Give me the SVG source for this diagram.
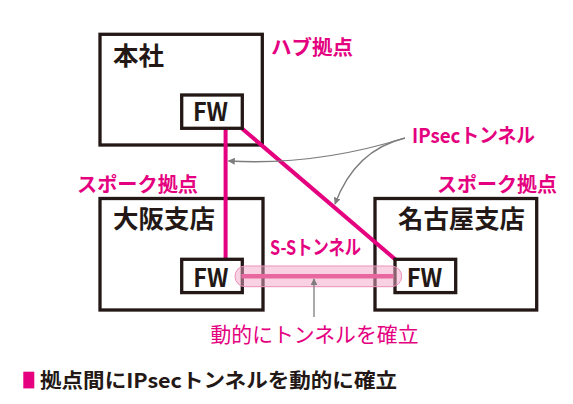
<svg xmlns="http://www.w3.org/2000/svg" width="573" height="404" viewBox="0 0 573 404">
<defs>
<style>
.box{fill:#fff;stroke:#231815;stroke-width:3.3}
.fw{fill:#fff;stroke:#231815;stroke-width:3.3}
.jp{font-family:"Noto Sans CJK JP","Noto Sans",sans-serif}
.lbl{font-weight:700;font-size:25px;fill:#231815}
.fwt{font-weight:700;font-size:25px;fill:#231815}
.mg{font-weight:700;font-size:20px;fill:#e4007f}
.link{stroke:#e4007f;stroke-width:4;fill:none}
.gray{stroke:#7d7d7d;stroke-width:1.3;fill:none}
</style>
<marker id="ah" viewBox="0 0 10 10" refX="9" refY="5" markerWidth="7" markerHeight="7" markerUnits="userSpaceOnUse" orient="auto">
<path d="M0,0 L10,5 L0,10 Z" fill="#7d7d7d"/>
</marker>
</defs>
<rect width="573" height="404" fill="#fff"/>

<g id="hub">
<rect class="box" x="100" y="34.3" width="162.3" height="110.7"/>
<text class="jp lbl" x="113" y="65" textLength="51" lengthAdjust="spacingAndGlyphs">本社</text>
<text class="jp mg" x="271" y="55" textLength="82" lengthAdjust="spacingAndGlyphs">ハブ拠点</text>
</g>

<g id="osaka">
<rect class="box" x="100" y="198.5" width="163" height="111.5"/>
<text class="jp lbl" x="113" y="228" textLength="102" lengthAdjust="spacingAndGlyphs">大阪支店</text>
<text class="jp mg" x="77" y="191.5" textLength="121" lengthAdjust="spacingAndGlyphs">スポーク拠点</text>
</g>

<g id="nagoya">
<rect class="box" x="375" y="198.5" width="161.7" height="111.5"/>
<text class="jp lbl" x="398" y="228" textLength="127" lengthAdjust="spacingAndGlyphs">名古屋支店</text>
<text class="jp mg" x="437" y="191.5" textLength="120" lengthAdjust="spacingAndGlyphs">スポーク拠点</text>
</g>

<g id="connectors">
<line class="link" x1="225.6" y1="129" x2="225.6" y2="259"/>
<line class="link" x1="242" y1="128.5" x2="396" y2="260"/>
<path class="gray" d="M405,138 Q315,166 228.5,161" marker-end="url(#ah)"/>
<path class="gray" d="M405,138 Q355,150 335,204" marker-end="url(#ah)"/>
</g>

<g id="hub-fw">
<rect class="fw" x="181.7" y="95" width="60.6" height="33.3"/>
<text class="jp fwt" x="193" y="121" textLength="35" lengthAdjust="spacingAndGlyphs">FW</text>
</g>
<g id="osaka-fw">
<rect class="fw" x="181.7" y="259.3" width="60.6" height="33.3"/>
<text class="jp fwt" x="193.3" y="286.5" textLength="35" lengthAdjust="spacingAndGlyphs">FW</text>
</g>
<g id="nagoya-fw">
<rect class="fw" x="395" y="259.3" width="60.7" height="33.3"/>
<text class="jp fwt" x="406.7" y="286.5" textLength="35.5" lengthAdjust="spacingAndGlyphs">FW</text>
</g>

<g id="tunnel">
<rect x="235" y="266" width="166.7" height="20.7" rx="10.3" fill="#f2a6c8" fill-opacity="0.5" stroke="#ec8fba" stroke-width="1"/>
<line x1="241.5" y1="276.3" x2="393.5" y2="276.3" stroke="#e9679f" stroke-width="4.5"/>
<text class="jp mg" x="270" y="255" textLength="91" lengthAdjust="spacingAndGlyphs">S-Sトンネル</text>
<line class="gray" x1="314" y1="317" x2="314" y2="279" marker-end="url(#ah)"/>
<text class="jp" x="210.5" y="341.5" font-size="21" fill="#e4007f" textLength="208" lengthAdjust="spacingAndGlyphs">動的にトンネルを確立</text>
</g>

<text class="jp mg" x="412" y="143.3" font-size="21" textLength="123" lengthAdjust="spacingAndGlyphs">IPsecトンネル</text>

<g id="caption">
<rect x="23.3" y="371.7" width="11" height="16.7" fill="#e4007f"/>
<text class="jp" x="40" y="388" font-size="20" font-weight="700" fill="#231815" textLength="357" lengthAdjust="spacingAndGlyphs">拠点間にIPsecトンネルを動的に確立</text>
</g>
</svg>
